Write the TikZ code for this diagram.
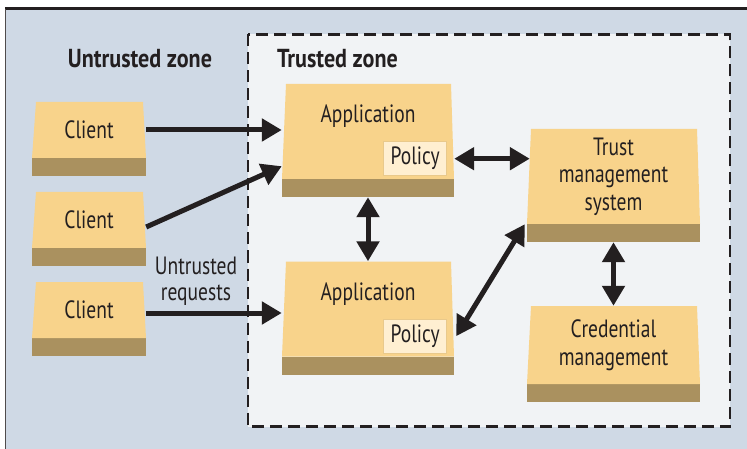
\documentclass[tikz,border=0pt]{standalone}
\usepackage{fontspec}
\setmainfont{PT Sans}[FakeStretch=0.78,BoldFeatures={FakeStretch=0.85}]
\usetikzlibrary{arrows.meta}
\definecolor{zonebg}{HTML}{CFD9E5}
\definecolor{trustbg}{HTML}{F1F3F5}
\definecolor{slabtop}{HTML}{F8D38B}
\definecolor{slabband}{HTML}{AA915F}
\definecolor{policybg}{HTML}{FFEFD1}
\definecolor{policyline}{HTML}{E9C98B}
\definecolor{ink}{HTML}{231F20}
\tikzset{
  slab/.style 2 args={inner sep=0pt, minimum width=#1, minimum height=#2,
    align=center, text=ink, font=\fontsize{25}{27.5}\selectfont,
    path picture={\fill[slabtop]
      ([xshift=4pt]path picture bounding box.north west) --
      ([xshift=-3pt]path picture bounding box.north east) --
      (path picture bounding box.south east) --
      (path picture bounding box.south west) -- cycle;},
    append after command={\pgfextra{\fill[slabband]
      (\tikzlastnode.south west) rectangle ([yshift=-18pt]\tikzlastnode.south east);}}},
  slabtext/.style={inner sep=0pt, text=ink, font=\fontsize{25}{26.5}\selectfont},
  zonetext/.style={inner sep=0pt, text=ink, font=\fontsize{26}{28}\selectfont\bfseries},
  policy/.style={draw=policyline, fill=policybg, line width=1pt, inner sep=0pt,
    minimum width=63pt, minimum height=34pt, text=ink, font=\fontsize{25}{27}\selectfont},
  link/.style={draw=ink, line width=5pt, -{Triangle[length=20pt,width=22pt]}},
  dlink/.style={draw=ink, line width=5pt, {Triangle[length=20pt,width=22pt]}-{Triangle[length=20pt,width=22pt]}}
}
\begin{document}
\begin{tikzpicture}[x=1pt,y=-1pt]
  \useasboundingbox (0,0) rectangle (747,449);
  % zones
  \fill[zonebg] (5,9) rectangle (747,449);
  \draw[ink, line width=3pt] (5,9) -- (747,9);
  \draw[ink!80, line width=1.5pt] (5.5,9) -- (5.5,449);
  \filldraw[fill=trustbg, draw=ink, line width=2.5pt, dash pattern=on 12pt off 6pt]
    (248,34.5) rectangle (730,426.5);
  \node[zonetext, anchor=base] (untrusted) at (140,68) {Untrusted zone};
  \node[zonetext, anchor=base west] (trusted) at (277,68) {Trusted zone};

  % clients
  \node[slab={114pt}{56pt}] (cl1) at (89,130) {Client};
  \node[slab={114pt}{56pt}] (cl2) at (89,220) {Client};
  \node[slab={114pt}{56pt}] (cl3) at (89,310) {Client};

  % applications
  \node[slab={172pt}{95pt}] (app1) at (368,131.5) {};
  \node[slabtext, anchor=base] (app1t) at ([yshift=-39pt]app1.north) {Application};
  \node[policy, anchor=south east] (pol1) at ([xshift=-7pt,yshift=3pt]app1.south east) {Policy};
  \node[slab={172pt}{95pt}] (app2) at (368,309) {};
  \node[slabtext, anchor=base] (app2t) at ([yshift=-39pt]app2.north) {Application};
  \node[policy, anchor=south east] (pol2) at ([xshift=-7pt,yshift=3pt]app2.south east) {Policy};

  % trust side
  \node[slab={173pt}{95pt}] (trust) at (613.5,176.5) {Trust\\management\\system};
  \node[slab={173pt}{78pt}] (cred) at (613.5,345) {Credential\\management};

  \node[slabtext, align=center] (req) at (196,281) {Untrusted\\requests};

  % links
  \draw[link] (cl1.east) -- (app1.west |- cl1.east);
  \draw[link] ([yshift=-7pt]cl2.east) -- ([yshift=13pt]app1.south west);
  \draw[link] ([yshift=-3pt]cl3.east) -- ([yshift=-3pt]app2.west |- cl3.east);
  \draw[dlink] ([yshift=-18pt]app1.south) -- (app2.north);
  \draw[dlink] (app1.east |- pol1.east) -- ([xshift=3pt]trust.west |- pol1.east);
  \draw[dlink] ([xshift=2pt]app2.east |- pol2.east) -- ([xshift=-2pt]trust.south west);
  \draw[dlink] ([yshift=-18pt]trust.south) -- (cred.north);
\end{tikzpicture}
\end{document}
